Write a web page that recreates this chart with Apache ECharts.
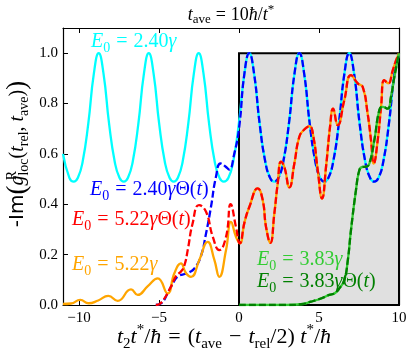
<!DOCTYPE html>
<html>
<head>
<meta charset="utf-8">
<script src="https://cdn.jsdelivr.net/npm/echarts@6/dist/echarts.min.js"></script>
<style>
  html, body { margin: 0; padding: 0; background: #fff; }
  #chart { width: 415px; height: 360px; }
</style>
</head>
<body>
<div id="chart"></div>
<script>
// axis ranges and tick labels
const xRange = [-11, 10];
const yRange = [0, 1.1];
const xTicks = [-10, -5, 0, 5, 10];
const yTicks = [0, 0.2, 0.4, 0.6, 0.8, 1.0];
// shaded box (t > 0)
const shadeX = [0, 10];
const shadeY = [0, 1.0];

// E0 = 2.40 gamma (no step)
const cyan240 = [
  [-11, 0.60], [-10.6, 0.505], [-10.33, 0.49],
  [-10.07, 0.505], [-9.77, 0.57], [-9.42, 0.72], [-9.07, 0.92], [-8.77, 1.0], [-8.47, 0.92], [-8.12, 0.72], [-7.77, 0.57], [-7.47, 0.505], [-7.2, 0.49],
  [-6.94, 0.505], [-6.64, 0.57], [-6.29, 0.72], [-5.94, 0.92], [-5.64, 1.0], [-5.34, 0.92], [-4.99, 0.72], [-4.64, 0.57], [-4.34, 0.505], [-4.08, 0.49],
  [-3.82, 0.505], [-3.52, 0.57], [-3.17, 0.72], [-2.82, 0.92], [-2.52, 1.0], [-2.22, 0.92], [-1.87, 0.72], [-1.52, 0.57], [-1.22, 0.505], [-0.95, 0.49],
  [-0.66, 0.505], [-0.36, 0.57], [-0.01, 0.72], [0.34, 0.92], [0.64, 1.0], [0.94, 0.92], [1.29, 0.72], [1.64, 0.57], [1.94, 0.505], [2.2, 0.49],
  [2.47, 0.505], [2.77, 0.57], [3.12, 0.72], [3.47, 0.92], [3.77, 1.0], [4.07, 0.92], [4.42, 0.72], [4.77, 0.57], [5.07, 0.505], [5.33, 0.49],
  [5.59, 0.505], [5.89, 0.57], [6.24, 0.72], [6.59, 0.92], [6.89, 1.0], [7.19, 0.92], [7.54, 0.72], [7.89, 0.57], [8.19, 0.505], [8.45, 0.49],
  [8.72, 0.505], [9.02, 0.57], [9.37, 0.72], [9.72, 0.92], [10.0, 0.995]
];
// E0 = 2.40 gamma Theta(t), before it joins the cyan curve
const blue240Neg = [
  [-5.2, 0.0], [-4.88, 0.006], [-4.46, 0.046], [-4.1, 0.09], [-3.83, 0.113], [-3.45, 0.122], [-3.1, 0.13],
  [-2.79, 0.145], [-2.4, 0.19], [-2.06, 0.284], [-1.75, 0.39], [-1.44, 0.509], [-1.15, 0.562], [-0.85, 0.55],
  [-0.62, 0.538], [-0.3, 0.6], [0.0, 0.7]
];
// E0 = 5.22 gamma, t < 0
const orange522Neg = [
  [-11, 0.004], [-10.5, 0.006], [-9.92, 0.02], [-9.4, 0.007], [-8.8, 0.018], [-8.17, 0.036], [-7.58, 0.016],
  [-6.75, 0.062], [-6.33, 0.04], [-5.7, 0.075], [-5.08, 0.106], [-4.46, 0.046], [-4.04, 0.126], [-3.63, 0.165],
  [-3.31, 0.126], [-3.0, 0.112], [-2.48, 0.179], [-1.96, 0.251], [-1.54, 0.179], [-1.23, 0.112], [-0.81, 0.218],
  [-0.5, 0.33], [-0.19, 0.271]
];
// E0 = 5.22 gamma Theta(t), t < 0
const red522Neg = [
  [-5.2, 0.0], [-4.88, 0.008], [-4.25, 0.073], [-3.94, 0.115], [-3.6, 0.135], [-3.4, 0.16], [-3.2, 0.22],
  [-2.9, 0.324], [-2.5, 0.397], [-2.06, 0.37], [-1.64, 0.271], [-1.23, 0.218], [-0.81, 0.271], [-0.52, 0.4],
  [-0.19, 0.31]
];
// both 5.22 curves for t >= 0
const tail522 = [
  [0.05, 0.245], [0.35, 0.33], [0.65, 0.39], [1.17, 0.463], [1.48, 0.417], [1.69, 0.31], [1.96, 0.247],
  [2.21, 0.364], [2.42, 0.483], [2.63, 0.569], [2.83, 0.549], [3.15, 0.467], [3.46, 0.562], [3.77, 0.668],
  [4.08, 0.697], [4.4, 0.71], [4.65, 0.668], [4.92, 0.536], [5.19, 0.423], [5.44, 0.549], [5.69, 0.708],
  [5.88, 0.78], [6.17, 0.714], [6.58, 0.813], [7.0, 0.913], [7.42, 0.88], [7.73, 0.866], [8.04, 0.76],
  [8.25, 0.655], [8.42, 0.562], [8.67, 0.655], [8.88, 0.787], [9.08, 0.893], [9.33, 0.88], [9.6, 0.93],
  [9.81, 0.97], [10.0, 1.0]
];
// E0 = 3.83 gamma (both versions coincide)
const green383 = [
  [0.0, 0.0], [3.0, 0.0], [3.88, 0.003], [4.5, 0.013], [5.13, 0.026], [5.64, 0.04], [5.96, 0.046],
  [6.27, 0.066], [6.58, 0.099], [6.79, 0.172], [7.0, 0.298], [7.31, 0.456], [7.52, 0.535], [7.7, 0.548],
  [7.94, 0.549], [8.15, 0.562], [8.46, 0.655], [8.77, 0.774], [8.98, 0.787], [9.29, 0.78], [9.5, 0.827],
  [9.71, 0.906], [10.0, 1.0]
];

const blue240 = blue240Neg.concat(cyan240.filter(p => p[0] > 0.2));
const orange522 = orange522Neg.concat(tail522);
const red522 = red522Neg.concat(tail522);

const SERIF = '"Liberation Serif", "DejaVu Serif", serif';

function mathStyles(size, color) {
  const lh = Math.round(size * 1.3);
  const sub = Math.round(size * 0.7);
  return {
    i: { fontFamily: SERIF, fontStyle: 'italic', fontSize: size, fill: color, lineHeight: lh },
    r: { fontFamily: SERIF, fontSize: size, fill: color, lineHeight: lh },
    s: { fontFamily: SERIF, fontSize: sub, fill: color, lineHeight: sub, verticalAlign: 'bottom' },
    p: { fontFamily: SERIF, fontSize: sub, fill: color, lineHeight: sub, verticalAlign: 'top' },
    p0: { fontFamily: SERIF, fontSize: sub, fill: color, lineHeight: sub, verticalAlign: 'top', width: 0 },
    eq: { fontFamily: SERIF, fontSize: size, fill: color, lineHeight: lh, padding: [0, Math.round(size * 0.3)] },
    sans: { fontFamily: '"DejaVu Sans", sans-serif', fontSize: size, fill: color, lineHeight: lh },
    big: { fontFamily: SERIF, fontSize: Math.round(size * 1.35), fill: color, lineHeight: lh }
  };
}

function mathText(x, y, text, size, color, align, rotation) {
  return {
    type: 'text',
    x: x,
    y: y,
    rotation: rotation || 0,
    z: 100,
    silent: true,
    style: {
      text: text,
      rich: mathStyles(size, color),
      align: align || 'left',
      textAlign: align || 'left',
      verticalAlign: 'middle',
      textVerticalAlign: 'middle'
    }
  };
}

function lineSeries(data, color, dashed, z) {
  return {
    type: 'line',
    data: data,
    showSymbol: false,
    smooth: 0.5,
    z: z,
    silent: true,
    lineStyle: { color: color, width: 2.3, type: dashed ? [7, 3] : 'solid' }
  };
}

const tickFont = { fontFamily: SERIF, fontSize: 15, color: '#000' };
const fmtX = v => (v < 0 ? '\u2212' + Math.abs(v) : String(v));

const chart = echarts.init(document.getElementById('chart'));
chart.setOption({
  animation: false,
  backgroundColor: '#fff',
  grid: { left: 63, right: 16, top: 28, bottom: 55, outerBoundsMode: 'none' },
  xAxis: [
    {
      type: 'value', min: xRange[0], max: xRange[1], position: 'bottom',
      axisLine: { onZero: false, lineStyle: { color: '#000', width: 1.2 } },
      axisTick: { inside: true, length: 5, customValues: xTicks, lineStyle: { color: '#000' } },
      axisLabel: Object.assign({ customValues: xTicks, margin: 6, formatter: fmtX }, tickFont),
      splitLine: { show: false }
    },
    {
      type: 'value', min: xRange[0], max: xRange[1], position: 'top',
      axisLine: { onZero: false, lineStyle: { color: '#000', width: 1.2 } },
      axisTick: { inside: true, length: 5, customValues: xTicks, lineStyle: { color: '#000' } },
      axisLabel: { show: false },
      splitLine: { show: false }
    }
  ],
  yAxis: [
    {
      type: 'value', min: yRange[0], max: yRange[1], position: 'left',
      axisLine: { show: true, onZero: false, lineStyle: { color: '#000', width: 1.2 } },
      axisTick: { show: true, inside: true, length: 5, customValues: yTicks, lineStyle: { color: '#000' } },
      axisLabel: Object.assign({ customValues: yTicks, margin: 5, formatter: v => v.toFixed(1) }, tickFont),
      splitLine: { show: false }
    },
    {
      type: 'value', min: yRange[0], max: yRange[1], position: 'right',
      axisLine: { show: true, onZero: false, lineStyle: { color: '#000', width: 1.2 } },
      axisTick: { show: true, inside: true, length: 5, customValues: yTicks, lineStyle: { color: '#000' } },
      axisLabel: { show: false },
      splitLine: { show: false }
    }
  ],
  series: [
    {
      type: 'line', data: [], z: 1, silent: true,
      markArea: {
        silent: true,
        itemStyle: { color: '#e0e0e0', borderColor: '#000', borderWidth: 2 },
        data: [[{ coord: [shadeX[0], shadeY[0]] }, { coord: [shadeX[1], shadeY[1]] }]]
      }
    },
    lineSeries(cyan240, '#00ffff', false, 3),
    lineSeries(blue240, '#0000ff', true, 4),
    lineSeries(orange522, '#ffa500', false, 5),
    lineSeries(red522, '#ff0000', true, 6),
    lineSeries(green383, '#33cc33', false, 7),
    lineSeries(green383, '#008000', true, 8)
  ],
  graphic: [
    mathText(231, 15, '{i|t}{s|ave}{eq|=}{r|10}{i|ħ}{r|/}{i|t}{p|*}', 18, '#000', 'center'),
    mathText(224, 337, '{i|t}{s|2}{i|t}{p|*}{r|/}{i|ħ}{eq|=}{r|(}{i|t}{s|ave}{eq|\u2212}{i|t}{s|rel}{r|/2) }{i|t}{p|*}{r|/}{i|ħ}', 22, '#000', 'center'),
    mathText(18, 154, '{sans|-Im}{big|(}{i|g}{p0|R}{s|loc}{r|(}{i|t}{s|rel}{r|, }{i|t}{s|ave}{r|)}{big|)}', 20, '#000', 'center', Math.PI / 2),
    mathText(91, 42, '{i|E}{s|0}{eq|=}{r|2.40}{i|γ}', 20, '#00ffff'),
    mathText(90, 190, '{i|E}{s|0}{eq|=}{r|2.40}{i|γ}{r|Θ(}{i|t}{r|)}', 20, '#0000ff'),
    mathText(72, 220, '{i|E}{s|0}{eq|=}{r|5.22}{i|γ}{r|Θ(}{i|t}{r|)}', 20, '#ff0000'),
    mathText(72, 265, '{i|E}{s|0}{eq|=}{r|5.22}{i|γ}', 20, '#ffa500'),
    mathText(257, 260, '{i|E}{s|0}{eq|=}{r|3.83}{i|γ}', 20, '#33cc33'),
    mathText(257, 282, '{i|E}{s|0}{eq|=}{r|3.83}{i|γ}{r|Θ(}{i|t}{r|)}', 20, '#008000')
  ]
});
</script>
</body>
</html>
